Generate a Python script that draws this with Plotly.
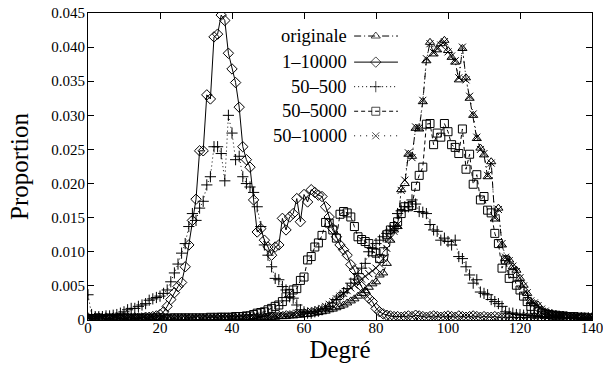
import plotly.graph_objects as go

# ---------------- data ----------------
degre = list(range(0, 141))

originale = [
    0.0002, 0.0002, 0.0003, 0.0002, 0.0003, 0.0002, 0.0003, 0.0003, 0.0002, 0.0003,
    0.0003, 0.0002, 0.0003, 0.0003, 0.0002, 0.0003, 0.0003, 0.0002, 0.0003, 0.0003,
    0.0003, 0.0002, 0.0003, 0.0003, 0.0003, 0.0002, 0.0003, 0.0003, 0.0003, 0.0002,
    0.0003, 0.0003, 0.0003, 0.0003, 0.0002, 0.0003, 0.0003, 0.0003, 0.0003, 0.0003,
    0.0003, 0.0003, 0.0003, 0.0003, 0.0003, 0.0003, 0.0004, 0.0003, 0.0004, 0.0004,
    0.0004, 0.0004, 0.0004, 0.0005, 0.0005, 0.0005, 0.0006, 0.0006, 0.0007, 0.0007,
    0.0008, 0.0008, 0.0009, 0.0010, 0.0011, 0.0012, 0.0013, 0.0015, 0.0016, 0.0018,
    0.0020, 0.0022, 0.0025, 0.0028, 0.0031, 0.0035, 0.0039, 0.0043, 0.0048, 0.0053,
    0.0056, 0.0066, 0.0069, 0.0083, 0.0117, 0.0132, 0.0137, 0.0191, 0.0200, 0.0243,
    0.0240, 0.0281, 0.0280, 0.0320, 0.0380, 0.0407, 0.0390, 0.0396, 0.0405, 0.0410,
    0.0395, 0.0385, 0.0378, 0.0352, 0.0398, 0.0355, 0.0325, 0.0300, 0.0266, 0.0252,
    0.0242, 0.0210, 0.0232, 0.0148, 0.0164, 0.0110, 0.0090, 0.0088, 0.0078, 0.0073,
    0.0061, 0.0051, 0.0039, 0.0027, 0.0024, 0.0022, 0.0015, 0.0012, 0.0010, 0.0009,
    0.0008, 0.0007, 0.0007, 0.0006, 0.0005, 0.0005, 0.0004, 0.0004, 0.0004, 0.0003, 0.0003,
]

s_1_10000 = [
    0.0003, 0.0002, 0.0003, 0.0003, 0.0002, 0.0003, 0.0002, 0.0003, 0.0003, 0.0002,
    0.0003, 0.0003, 0.0002, 0.0003, 0.0003, 0.0003, 0.0004, 0.0004, 0.0005, 0.0006,
    0.0008, 0.0012, 0.0020, 0.0030, 0.0040, 0.0049, 0.0055, 0.0078, 0.0110, 0.0146,
    0.0177, 0.0248, 0.0248, 0.0330, 0.0324, 0.0415, 0.0419, 0.0447, 0.0439, 0.0391,
    0.0368, 0.0348, 0.0312, 0.0254, 0.0235, 0.0224, 0.0176, 0.0129, 0.0134, 0.0117,
    0.0107, 0.0095, 0.0107, 0.0110, 0.0149, 0.0132, 0.0151, 0.0156, 0.0178, 0.0144,
    0.0184, 0.0173, 0.0191, 0.0187, 0.0183, 0.0181, 0.0166, 0.0151, 0.0134, 0.0122,
    0.0110, 0.0103, 0.0095, 0.0081, 0.0073, 0.0059, 0.0049, 0.0039, 0.0032, 0.0027,
    0.0017, 0.0012, 0.0009, 0.0007, 0.0006, 0.0005, 0.0005, 0.0004, 0.0005, 0.0006,
    0.0005, 0.0007, 0.0006, 0.0005, 0.0004, 0.0005, 0.0006, 0.0005, 0.0004, 0.0005,
    0.0006, 0.0005, 0.0004, 0.0006, 0.0005, 0.0004, 0.0005, 0.0006, 0.0005, 0.0004,
    0.0005, 0.0004, 0.0004, 0.0005, 0.0004, 0.0003, 0.0004, 0.0004, 0.0003, 0.0004,
    0.0003, 0.0004, 0.0003, 0.0003, 0.0004, 0.0003, 0.0003, 0.0003, 0.0002, 0.0003,
    0.0003, 0.0002, 0.0003, 0.0002, 0.0003, 0.0002, 0.0002, 0.0003, 0.0002, 0.0002, 0.0002,
]

s_50_500 = [
    0.0037, 0.0008, 0.0005, 0.0005, 0.0005, 0.0006, 0.0006, 0.0007, 0.0008, 0.0010,
    0.0012, 0.0015, 0.0017, 0.0017, 0.0020, 0.0022, 0.0024, 0.0029, 0.0031, 0.0033,
    0.0035, 0.0039, 0.0044, 0.0056, 0.0069, 0.0082, 0.0098, 0.0112, 0.0137, 0.0156,
    0.0146, 0.0164, 0.0174, 0.0198, 0.0210, 0.0254, 0.0254, 0.0244, 0.0204, 0.0300,
    0.0274, 0.0235, 0.0240, 0.0210, 0.0200, 0.0195, 0.0187, 0.0166, 0.0137, 0.0110,
    0.0095, 0.0078, 0.0061, 0.0059, 0.0049, 0.0044, 0.0034, 0.0032, 0.0022, 0.0015,
    0.0012, 0.0010, 0.0010, 0.0012, 0.0013, 0.0015, 0.0017, 0.0020, 0.0025, 0.0030,
    0.0035, 0.0040, 0.0046, 0.0054, 0.0060, 0.0068, 0.0076, 0.0083, 0.0100, 0.0105,
    0.0112, 0.0117, 0.0122, 0.0127, 0.0132, 0.0137, 0.0156, 0.0160, 0.0166, 0.0166,
    0.0176, 0.0170, 0.0159, 0.0158, 0.0156, 0.0140, 0.0132, 0.0130, 0.0117, 0.0120,
    0.0115, 0.0110, 0.0117, 0.0093, 0.0090, 0.0078, 0.0066, 0.0054, 0.0059, 0.0041,
    0.0039, 0.0037, 0.0030, 0.0027, 0.0024, 0.0020, 0.0012, 0.0010, 0.0010, 0.0008,
    0.0008, 0.0007, 0.0007, 0.0006, 0.0006, 0.0005, 0.0005, 0.0005, 0.0004, 0.0004,
    0.0004, 0.0004, 0.0003, 0.0003, 0.0003, 0.0003, 0.0003, 0.0003, 0.0003, 0.0003, 0.0003,
]

s_50_5000 = [
    0.0002, 0.0002, 0.0002, 0.0003, 0.0002, 0.0002, 0.0003, 0.0002, 0.0002, 0.0003,
    0.0002, 0.0003, 0.0002, 0.0003, 0.0002, 0.0003, 0.0003, 0.0002, 0.0003, 0.0003,
    0.0003, 0.0003, 0.0002, 0.0003, 0.0003, 0.0003, 0.0003, 0.0003, 0.0003, 0.0003,
    0.0003, 0.0003, 0.0003, 0.0003, 0.0004, 0.0003, 0.0004, 0.0004, 0.0004, 0.0004,
    0.0004, 0.0005, 0.0005, 0.0005, 0.0006, 0.0006, 0.0008, 0.0010, 0.0011, 0.0012,
    0.0015, 0.0017, 0.0020, 0.0022, 0.0027, 0.0034, 0.0039, 0.0044, 0.0046, 0.0058,
    0.0063, 0.0088, 0.0093, 0.0107, 0.0113, 0.0124, 0.0143, 0.0142, 0.0132, 0.0120,
    0.0155, 0.0159, 0.0157, 0.0151, 0.0137, 0.0122, 0.0118, 0.0115, 0.0112, 0.0100,
    0.0098, 0.0090, 0.0100, 0.0125, 0.0132, 0.0137, 0.0144, 0.0156, 0.0166, 0.0166,
    0.0168, 0.0196, 0.0212, 0.0224, 0.0287, 0.0288, 0.0257, 0.0274, 0.0268, 0.0288,
    0.0276, 0.0257, 0.0253, 0.0244, 0.0280, 0.0221, 0.0243, 0.0199, 0.0213, 0.0176,
    0.0181, 0.0161, 0.0157, 0.0127, 0.0112, 0.0076, 0.0088, 0.0061, 0.0068, 0.0051,
    0.0044, 0.0035, 0.0027, 0.0020, 0.0015, 0.0012, 0.0010, 0.0009, 0.0008, 0.0007,
    0.0007, 0.0006, 0.0006, 0.0005, 0.0005, 0.0005, 0.0004, 0.0004, 0.0004, 0.0003, 0.0003,
]

s_50_10000 = [
    0.0003, 0.0002, 0.0003, 0.0002, 0.0003, 0.0003, 0.0002, 0.0003, 0.0002, 0.0003,
    0.0003, 0.0002, 0.0003, 0.0003, 0.0003, 0.0002, 0.0003, 0.0003, 0.0003, 0.0003,
    0.0003, 0.0003, 0.0002, 0.0003, 0.0003, 0.0003, 0.0003, 0.0003, 0.0002, 0.0003,
    0.0003, 0.0003, 0.0003, 0.0003, 0.0003, 0.0003, 0.0003, 0.0004, 0.0003, 0.0004,
    0.0004, 0.0004, 0.0004, 0.0004, 0.0005, 0.0004, 0.0005, 0.0005, 0.0005, 0.0006,
    0.0006, 0.0006, 0.0007, 0.0007, 0.0008, 0.0008, 0.0009, 0.0009, 0.0010, 0.0010,
    0.0011, 0.0012, 0.0013, 0.0014, 0.0015, 0.0017, 0.0020, 0.0023, 0.0027, 0.0031,
    0.0035, 0.0039, 0.0043, 0.0047, 0.0051, 0.0055, 0.0060, 0.0064, 0.0068, 0.0072,
    0.0076, 0.0082, 0.0090, 0.0105, 0.0120, 0.0130, 0.0140, 0.0190, 0.0205, 0.0245,
    0.0238, 0.0283, 0.0282, 0.0322, 0.0383, 0.0405, 0.0392, 0.0398, 0.0403, 0.0408,
    0.0393, 0.0387, 0.0380, 0.0355, 0.0400, 0.0352, 0.0328, 0.0302, 0.0268, 0.0250,
    0.0244, 0.0212, 0.0230, 0.0150, 0.0162, 0.0112, 0.0092, 0.0087, 0.0079, 0.0071,
    0.0062, 0.0050, 0.0040, 0.0028, 0.0025, 0.0021, 0.0016, 0.0013, 0.0011, 0.0009,
    0.0008, 0.0008, 0.0007, 0.0006, 0.0006, 0.0005, 0.0005, 0.0004, 0.0004, 0.0004, 0.0003,
]

series_names = ["originale", "1\u201310000", "50\u2013500", "50\u20135000", "50\u201310000"]
series_values = [originale, s_1_10000, s_50_500, s_50_5000, s_50_10000]

x_ticks = [0, 20, 40, 60, 80, 100, 120, 140]
y_ticks = [0, 0.005, 0.010, 0.015, 0.020, 0.025, 0.030, 0.035, 0.040, 0.045]
y_tick_labels = ["0", "0.005", "0.010", "0.015", "0.020", "0.025", "0.030", "0.035", "0.040", "0.045"]

# ---------------- styles ----------------
styles = [
    dict(symbol="triangle-up-open", size=8, dash="7px,3px,1px,3px"),
    dict(symbol="diamond-open", size=8, dash="solid"),
    dict(symbol="cross-thin-open", size=8, dash="1px,3px"),
    dict(symbol="square-open", size=8, dash="4px,3px"),
    dict(symbol="x-thin-open", size=7, dash="1px,5px"),
]

FONT = "Liberation Serif"

fig = go.Figure()
for name, vals, st in zip(series_names, series_values, styles):
    fig.add_trace(go.Scatter(
        x=degre, y=vals, name=name, mode="lines+markers",
        line=dict(color="black", width=1, dash=st["dash"]),
        marker=dict(symbol=st["symbol"], size=st["size"], color="black",
                    line=dict(color="black", width=1)),
        showlegend=False, cliponaxis=True,
    ))

# ---------------- custom legend (text, then sample to its right) ----------------
leg_text_x = 0.518
leg_x0, leg_xm, leg_x1 = 0.528, 0.571, 0.615
leg_rows = [0.925, 0.840, 0.760, 0.680, 0.600]
for name, st, ry in zip(series_names, styles, leg_rows):
    fig.add_trace(go.Scatter(
        x=[leg_x0, leg_xm, leg_x1], y=[ry, ry, ry], xaxis="x2", yaxis="y2",
        mode="lines+markers", showlegend=False, hoverinfo="skip",
        line=dict(color="black", width=1, dash=st["dash"]),
        marker=dict(symbol=st["symbol"], size=[0, st["size"], 0], color="black",
                    line=dict(color="black", width=1)),
    ))
    fig.add_annotation(xref="paper", yref="paper", x=leg_text_x, y=ry, text=name,
                       showarrow=False, xanchor="right", yanchor="middle",
                       font=dict(family=FONT, size=18.5, color="black"))

axis_common = dict(
    showline=True, linecolor="black", linewidth=1, mirror="ticks",
    ticks="inside", ticklen=6, tickcolor="black", tickwidth=1,
    showgrid=False, zeroline=False, automargin=False,
    ticklabeloverflow="allow",
    tickfont=dict(family=FONT, size=15, color="black"),
)

fig.update_layout(
    width=603, height=371,
    margin=dict(l=88, r=11, t=13, b=51),
    paper_bgcolor="white", plot_bgcolor="white",
    font=dict(family=FONT, color="black"),
    xaxis=dict(range=[0, 140], tickvals=x_ticks, ticktext=[str(v) for v in x_ticks],
               ticklabelstandoff=-6,
               title=dict(text="Degré", font=dict(family=FONT, size=25), standoff=4),
               **axis_common),
    yaxis=dict(range=[0, 0.045], tickvals=y_ticks, ticktext=y_tick_labels,
               ticklabelstandoff=-1,
               title=dict(text="Proportion", font=dict(family=FONT, size=25), standoff=15),
               **axis_common),
    xaxis2=dict(range=[0, 1], overlaying="x", visible=False, anchor="y2", fixedrange=True),
    yaxis2=dict(range=[0, 1], overlaying="y", visible=False, anchor="x2", fixedrange=True),
    showlegend=False,
)

fig.write_html("out.html", config={"displayModeBar": False},
               post_script="document.body.style.margin='0';document.body.style.padding='0';")
